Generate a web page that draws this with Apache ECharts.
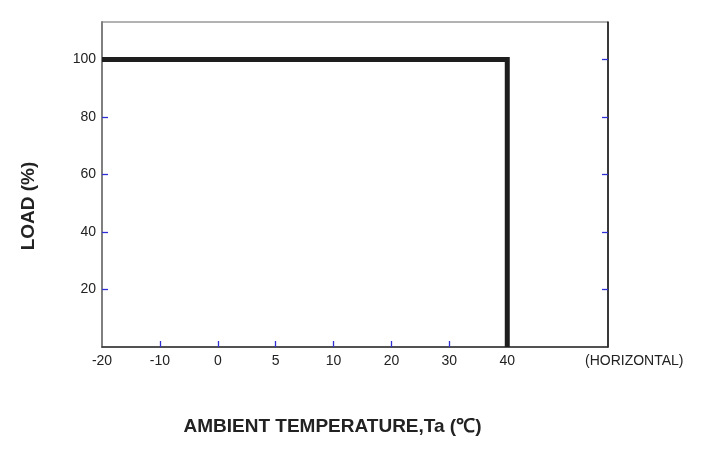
<!DOCTYPE html>
<html>
<head>
<meta charset="utf-8">
<script src="https://cdn.jsdelivr.net/npm/echarts@6/dist/echarts.min.js"></script>
<style>html,body{margin:0;padding:0;background:#fff}#c{width:702px;height:461px}</style>
</head>
<body>
<div id="c"></div>
<script>
// Data
const xCategories = ['-20', '-10', '0', '5', '10', '20', '30', '40'];
const yTicks = [20, 40, 60, 80, 100];
const curveTemps = ['-20', '40', '40'];
const curveLoad = [100, 100, 0];
const xName = 'AMBIENT TEMPERATURE,Ta (℃)';
const yName = 'LOAD (%)';
const xNote = '(HORIZONTAL)';

const xIdx = xCategories.map((_, i) => i);
const xTickIdx = xIdx.slice(1);
const curveData = curveTemps.map((t, i) => [xCategories.indexOf(t), curveLoad[i]]);
const tickColor = '#2f2fd6';
const font = 'Liberation Sans, Arial, sans-serif';

const chart = echarts.init(document.getElementById('c'));
chart.setOption({
  animation: false,
  backgroundColor: '#fff',
  grid: { left: 102, right: 94, top: 22, bottom: 114, show: true, borderColor: '#666', borderWidth: 1 },
  xAxis: [{
    type: 'value', min: 0, max: 8.74, interval: 1,
    axisLine: { show: true, onZero: false, lineStyle: { color: '#333', width: 1.5 } },
    axisTick: { show: true, inside: true, length: 6, customValues: xTickIdx, lineStyle: { color: tickColor, width: 1.3 } },
    axisLabel: { customValues: xIdx, formatter: v => xCategories[Math.round(v)] || '', color: '#222', fontSize: 14, fontFamily: font, margin: 7 },
    splitLine: { show: false },
    name: xName, nameLocation: 'middle', nameGap: 70,
    nameTextStyle: { fontSize: 19, fontWeight: 'bold', color: '#222', fontFamily: font, padding: [0, 45, 0, 0] }
  }, {
    type: 'value', min: 0, max: 8.74, position: 'bottom',
    axisLine: { show: false, onZero: false }, axisTick: { show: false }, axisLabel: { show: false }, splitLine: { show: false },
    name: xNote, nameLocation: 'end', nameGap: -23,
    nameTextStyle: { fontSize: 14, color: '#222', fontFamily: font, verticalAlign: 'top', lineHeight: 29 }
  }],
  yAxis: [{
    type: 'value', min: 0, max: 113, interval: 20,
    axisLine: { show: true, onZero: false, lineStyle: { color: '#808080', width: 2 } },
    axisTick: { show: true, inside: true, length: 6, customValues: yTicks, lineStyle: { color: tickColor, width: 1.3 } },
    axisLabel: { customValues: yTicks, color: '#222', fontSize: 14, fontFamily: font, margin: 6 },
    splitLine: { show: false },
    name: yName, nameLocation: 'middle', nameGap: 64,
    nameTextStyle: { fontSize: 19, fontWeight: 'bold', color: '#222', fontFamily: font, padding: [0, 43, 0, 0] }
  }, {
    type: 'value', min: 0, max: 113, interval: 20, position: 'right',
    axisLine: { show: true, onZero: false, lineStyle: { color: '#111', width: 1.5 } },
    axisTick: { show: true, inside: true, length: 6, customValues: yTicks, lineStyle: { color: tickColor, width: 1.3 } },
    axisLabel: { show: false }, splitLine: { show: false }
  }],
  series: [{
    type: 'line', xAxisIndex: 0, yAxisIndex: 0,
    data: curveData, showSymbol: false, symbol: 'none',
    lineStyle: { color: '#1e1e1e', width: 5, join: 'miter' },
    z: 1
  }]
});
</script>
</body>
</html>
